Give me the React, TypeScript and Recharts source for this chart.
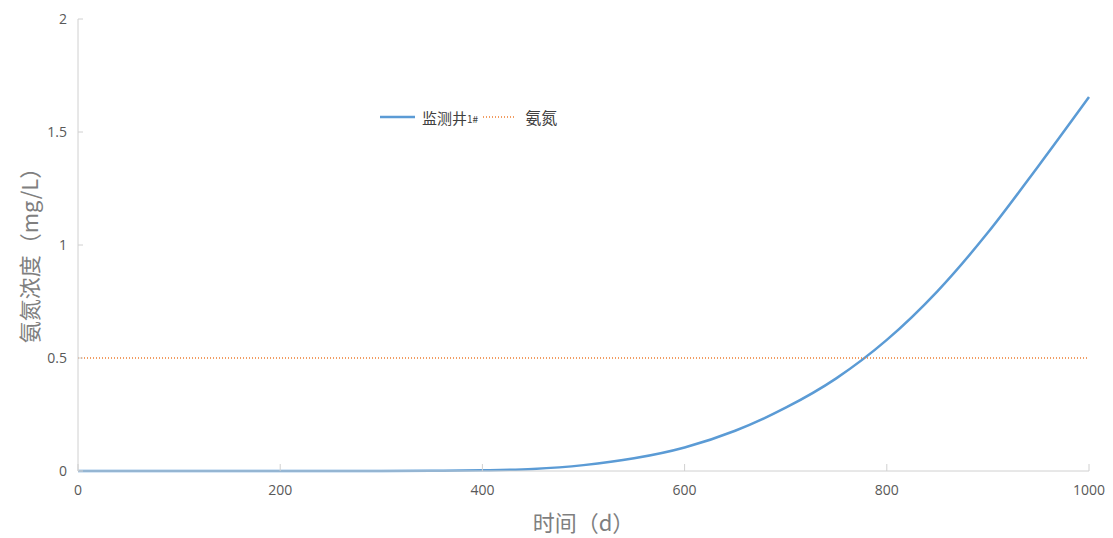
import React from "react";
import { LineChart, Line, XAxis, YAxis, Legend } from "recharts";

// time (d)
const days = [0, 50, 100, 150, 200, 250, 300, 350, 400, 450, 500, 550, 600, 650, 700, 750, 800, 850, 900, 950, 1000];
// 监测井1# ammonia nitrogen (mg/L)
const well1 = [0, 0, 0, 0, 0, 0, 0, 0.001, 0.003, 0.009, 0.026, 0.056, 0.104, 0.178, 0.28, 0.41, 0.58, 0.795, 1.055, 1.35, 1.655];
// 氨氮 standard limit (mg/L)
const limit = [0.5, 0.5, 0.5, 0.5, 0.5, 0.5, 0.5, 0.5, 0.5, 0.5, 0.5, 0.5, 0.5, 0.5, 0.5, 0.5, 0.5, 0.5, 0.5, 0.5, 0.5];

const xTicks = [0, 200, 400, 600, 800, 1000];
const yTicks = [0, 0.5, 1, 1.5, 2];

const data = days.map((d, i) => ({ day: d, well: well1[i], limit: limit[i] }));

const BLUE = "#5B9BD5";
const ORANGE = "#ED7D31";
const AXIS = "#d0d0d0";
const LABEL = "#595959";
const TITLE = "#7f7f7f";

const LegendBox = () => (
  <div style={{ display: "flex", alignItems: "center", fontFamily: "'Noto Sans CJK SC'", color: "#404040" }}>
    <svg width={36} height={10}>
      <line x1={0} y1={5} x2={35} y2={5} stroke={BLUE} strokeWidth={2.5} />
    </svg>
    <span style={{ fontSize: 15, marginLeft: 6 }}>监测井</span>
    <span style={{ fontSize: 10, marginTop: 2 }}>1#</span>
    <svg width={36} height={10} style={{ marginLeft: 4 }}>
      <line x1={1} y1={5} x2={34} y2={5} stroke={ORANGE} strokeWidth={1.5} strokeDasharray="1 2" />
    </svg>
    <span style={{ fontSize: 16, marginLeft: 7 }}>氨氮</span>
  </div>
);

const YTitle = () => (
  <text
    x={20}
    y={242}
    transform="rotate(-90 20 242)"
    textAnchor="middle"
    dominantBaseline="central"
    fill={TITLE}
    fontSize={22}
    fontFamily="'Noto Sans CJK SC'"
  >
    氨氮浓度（mg/L）
  </text>
);

export default function App() {
  return (
    <div style={{ background: "#fff" }}>
      <LineChart width={1105} height={530} data={data} margin={{ top: 11, right: 24, bottom: 37, left: 0 }}>
        <XAxis
          dataKey="day"
          type="number"
          domain={[0, 1000]}
          ticks={xTicks}
          height={30}
          stroke={AXIS}
          tickSize={-7}
          tickMargin={21}
          tick={{ fill: LABEL, fontSize: 14, fontFamily: "'Open Sans'" }}
          label={{ value: "时间（d）", position: "insideBottom", offset: -30, fill: TITLE, fontSize: 22, fontFamily: "'Noto Sans CJK SC'" }}
        />
        <YAxis
          type="number"
          domain={[0, 2]}
          ticks={yTicks}
          width={70}
          stroke={AXIS}
          tickSize={-5}
          tickMargin={16}
          tick={{ fill: LABEL, fontSize: 14, fontFamily: "'Open Sans'" }}
          label={<YTitle />}
        />
        <Legend
          content={<LegendBox />}
          layout="horizontal"
          verticalAlign="middle"
          align="center"
          wrapperStyle={{ left: 372, top: 97, width: "auto", height: "auto" }}
        />
        <Line dataKey="well" name="监测井1#" type="monotone" stroke={BLUE} strokeWidth={2.5} dot={false} isAnimationActive={false} />
        <Line dataKey="limit" name="氨氮" type="linear" stroke={ORANGE} strokeWidth={1.3} strokeDasharray="1 2" dot={false} isAnimationActive={false} />
      </LineChart>
    </div>
  );
}
